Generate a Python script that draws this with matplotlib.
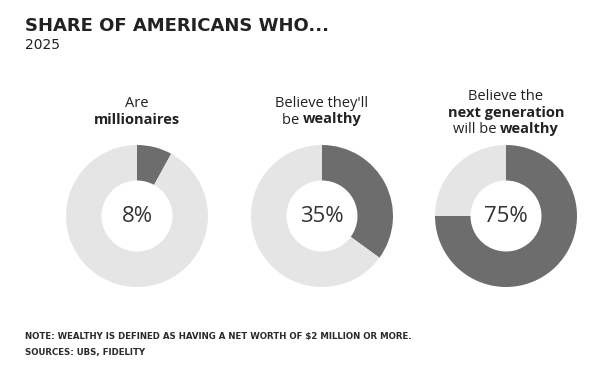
import matplotlib
matplotlib.use("Agg")
import matplotlib.pyplot as plt

# data
shares = [8, 35, 75]
labels = [
    [[("Are", False)], [("millionaires", True)]],
    [[("Believe they'll", False)], [("be ", False), ("wealthy", True)]],
    [[("Believe the", False)], [("next generation", True)],
     [("will be ", False), ("wealthy", True)]],
]
title = "SHARE OF AMERICANS WHO..."
subtitle = "2025"
note = "NOTE: WEALTHY IS DEFINED AS HAVING A NET WORTH OF $2 MILLION OR MORE."
sources = "SOURCES: UBS, FIDELITY"

DARK = "#6d6d6d"
LIGHT = "#e5e5e5"
TXT = "#222222"
W, H = 592, 370
centers_x = [137, 322, 506]
cy = H - 216
radius = 71
label_font = "Open Sans"

fig = plt.figure(figsize=(W / 100, H / 100), dpi=100)
ax = fig.add_axes([0, 0, 1, 1])
ax.set_xlim(0, W)
ax.set_ylim(0, H)
ax.set_aspect("equal")
ax.axis("off")

for cx, s in zip(centers_x, shares):
    ax.pie([s, 100 - s], colors=[DARK, LIGHT], startangle=90, counterclock=False,
           center=(cx, cy), radius=radius,
           wedgeprops=dict(width=radius * 0.5, linewidth=0))
    ax.text(cx, cy, f"{s}%", ha="center", va="center", fontsize=16,
            color="#333333", family=label_font, fontweight="medium")

ax.set_xlim(0, W)
ax.set_ylim(0, H)

fig.canvas.draw()
renderer = fig.canvas.get_renderer()


def draw_line(cx, y, parts, size=10.5):
    # measure each piece, then lay them out centred on cx
    widths = []
    for txt, bold in parts:
        t = ax.text(0, 0, txt, fontsize=size, family=label_font,
                    fontweight="bold" if bold else "normal")
        widths.append(t.get_window_extent(renderer).width)
        t.remove()
    x = cx - sum(widths) / 2
    for (txt, bold), w in zip(parts, widths):
        ax.text(x, y, txt, fontsize=size, family=label_font, color=TXT,
                fontweight="bold" if bold else "normal", ha="left", va="baseline")
        x += w


line_bases = [107, 107, 100]
for cx, lines, base in zip(centers_x, labels, line_bases):
    for i, parts in enumerate(lines):
        draw_line(cx, H - (base + 16.5 * i), parts)

fig.text(25 / W, 1 - 26 / H, title, fontsize=13, fontweight="bold",
         family="DejaVu Sans", color="#222222", va="center", ha="left")
fig.text(25 / W, 1 - 45 / H, subtitle, fontsize=10, family="DejaVu Sans",
         color="#222222", va="center", ha="left")
fig.text(25 / W, 1 - 336 / H, note, fontsize=6.25, fontweight="bold",
         family="DejaVu Sans", color="#2a2a2a", va="center", ha="left")
fig.text(25 / W, 1 - 352 / H, sources, fontsize=6.25, fontweight="bold",
         family="DejaVu Sans", color="#2a2a2a", va="center", ha="left")

fig.savefig("out.png", dpi=100, facecolor="white")
